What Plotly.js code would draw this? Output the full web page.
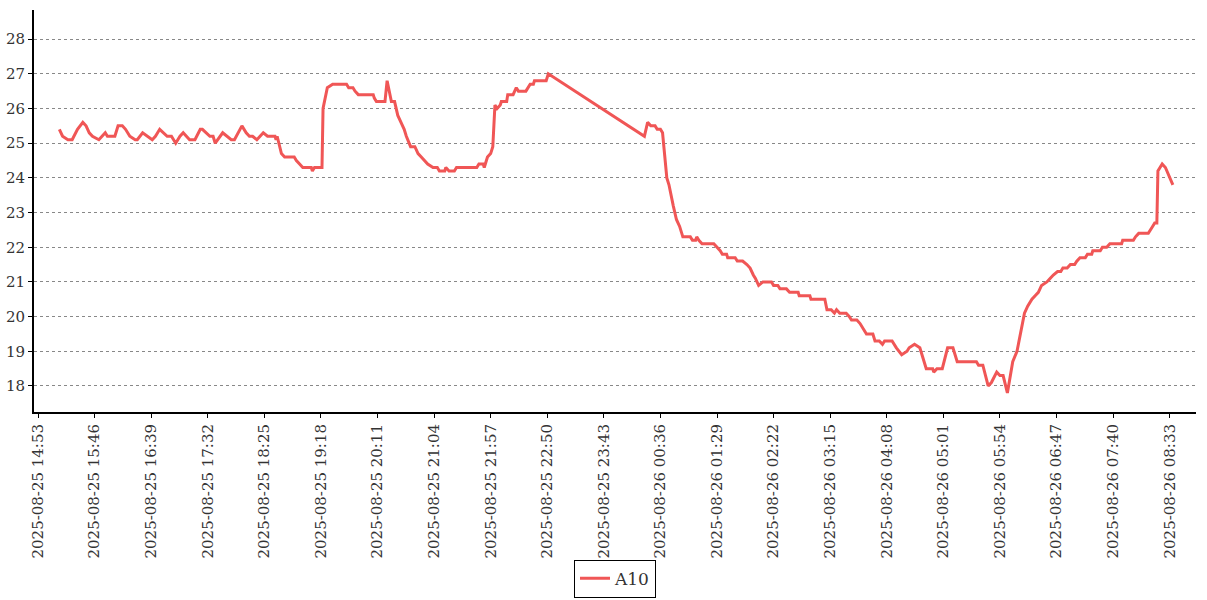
<!DOCTYPE html>
<html>
<head>
<meta charset="utf-8">
<script src="https://cdn.plot.ly/plotly-3.0.1.min.js"></script>
<style>html,body{margin:0;padding:0;background:#fff;}#chart{width:1207px;height:600px;}</style>
</head>
<body>
<div id="chart"></div>
<script>
const seriesName = "A10";
const times = [
"2025-08-25 15:13","2025-08-25 15:16","2025-08-25 15:21","2025-08-25 15:25","2025-08-25 15:30",
"2025-08-25 15:35","2025-08-25 15:38","2025-08-25 15:41","2025-08-25 15:44","2025-08-25 15:50",
"2025-08-25 15:53","2025-08-25 15:56","2025-08-25 15:58","2025-08-25 16:05","2025-08-25 16:08",
"2025-08-25 16:12","2025-08-25 16:15","2025-08-25 16:19","2025-08-25 16:24","2025-08-25 16:26",
"2025-08-25 16:31","2025-08-25 16:36","2025-08-25 16:40","2025-08-25 16:43","2025-08-25 16:47",
"2025-08-25 16:54","2025-08-25 16:58","2025-08-25 17:02","2025-08-25 17:06","2025-08-25 17:09",
"2025-08-25 17:15","2025-08-25 17:20","2025-08-25 17:25","2025-08-25 17:27","2025-08-25 17:34",
"2025-08-25 17:37","2025-08-25 17:39","2025-08-25 17:46","2025-08-25 17:50","2025-08-25 17:54",
"2025-08-25 17:57","2025-08-25 18:04","2025-08-25 18:08","2025-08-25 18:11","2025-08-25 18:14",
"2025-08-25 18:18","2025-08-25 18:21","2025-08-25 18:24","2025-08-25 18:28","2025-08-25 18:35",
"2025-08-25 18:36","2025-08-25 18:37","2025-08-25 18:41","2025-08-25 18:44","2025-08-25 18:53",
"2025-08-25 18:55","2025-08-25 18:58","2025-08-25 19:01","2025-08-25 19:09","2025-08-25 19:10",
"2025-08-25 19:12","2025-08-25 19:19","2025-08-25 19:20","2025-08-25 19:24","2025-08-25 19:29",
"2025-08-25 19:42","2025-08-25 19:44","2025-08-25 19:48","2025-08-25 19:50","2025-08-25 19:53",
"2025-08-25 20:07","2025-08-25 20:08","2025-08-25 20:10","2025-08-25 20:18","2025-08-25 20:20",
"2025-08-25 20:23","2025-08-25 20:24","2025-08-25 20:27","2025-08-25 20:30","2025-08-25 20:33",
"2025-08-25 20:36","2025-08-25 20:38","2025-08-25 20:42","2025-08-25 20:46","2025-08-25 20:49",
"2025-08-25 20:52","2025-08-25 20:55","2025-08-25 20:58","2025-08-25 21:03","2025-08-25 21:07",
"2025-08-25 21:09","2025-08-25 21:14","2025-08-25 21:15","2025-08-25 21:18","2025-08-25 21:23",
"2025-08-25 21:25","2025-08-25 21:44","2025-08-25 21:46","2025-08-25 21:50","2025-08-25 21:51",
"2025-08-25 21:52","2025-08-25 21:54","2025-08-25 21:57","2025-08-25 21:59","2025-08-25 22:01",
"2025-08-25 22:03","2025-08-25 22:06","2025-08-25 22:07","2025-08-25 22:12","2025-08-25 22:13",
"2025-08-25 22:18","2025-08-25 22:21","2025-08-25 22:23","2025-08-25 22:30","2025-08-25 22:34",
"2025-08-25 22:37","2025-08-25 22:38","2025-08-25 22:49","2025-08-25 22:51",
"2025-08-26 00:21","2025-08-26 00:24","2025-08-26 00:27","2025-08-26 00:31","2025-08-26 00:33",
"2025-08-26 00:36","2025-08-26 00:38","2025-08-26 00:42","2025-08-26 00:44","2025-08-26 00:48",
"2025-08-26 00:51","2025-08-26 00:54","2025-08-26 00:57","2025-08-26 01:04","2025-08-26 01:06",
"2025-08-26 01:09","2025-08-26 01:10","2025-08-26 01:12","2025-08-26 01:15","2025-08-26 01:26",
"2025-08-26 01:29","2025-08-26 01:32","2025-08-26 01:34","2025-08-26 01:38","2025-08-26 01:39",
"2025-08-26 01:46","2025-08-26 01:48","2025-08-26 01:53","2025-08-26 01:57","2025-08-26 02:00",
"2025-08-26 02:03","2025-08-26 02:05","2025-08-26 02:08","2025-08-26 02:12","2025-08-26 02:20",
"2025-08-26 02:22","2025-08-26 02:26","2025-08-26 02:28","2025-08-26 02:34","2025-08-26 02:37",
"2025-08-26 02:45","2025-08-26 02:46","2025-08-26 02:56","2025-08-26 02:57","2025-08-26 03:10",
"2025-08-26 03:12","2025-08-26 03:16","2025-08-26 03:19","2025-08-26 03:21","2025-08-26 03:24",
"2025-08-26 03:30","2025-08-26 03:33","2025-08-26 03:35","2025-08-26 03:40","2025-08-26 03:43",
"2025-08-26 03:45","2025-08-26 03:49","2025-08-26 03:55","2025-08-26 03:57","2025-08-26 04:01",
"2025-08-26 04:04","2025-08-26 04:06","2025-08-26 04:13","2025-08-26 04:17","2025-08-26 04:22",
"2025-08-26 04:27","2025-08-26 04:29","2025-08-26 04:34","2025-08-26 04:39","2025-08-26 04:45",
"2025-08-26 04:51","2025-08-26 04:52","2025-08-26 04:55","2025-08-26 05:00","2025-08-26 05:05",
"2025-08-26 05:10","2025-08-26 05:14","2025-08-26 05:32","2025-08-26 05:34","2025-08-26 05:38",
"2025-08-26 05:43","2025-08-26 05:46","2025-08-26 05:51","2025-08-26 05:54","2025-08-26 05:57",
"2025-08-26 06:01","2025-08-26 06:06","2025-08-26 06:10","2025-08-26 06:13","2025-08-26 06:17",
"2025-08-26 06:20","2025-08-26 06:24","2025-08-26 06:27","2025-08-26 06:30","2025-08-26 06:33",
"2025-08-26 06:38","2025-08-26 06:41","2025-08-26 06:44","2025-08-26 06:48","2025-08-26 06:51",
"2025-08-26 06:53","2025-08-26 06:57","2025-08-26 07:00","2025-08-26 07:04","2025-08-26 07:06",
"2025-08-26 07:09","2025-08-26 07:14","2025-08-26 07:16","2025-08-26 07:20","2025-08-26 07:21",
"2025-08-26 07:28","2025-08-26 07:30","2025-08-26 07:34","2025-08-26 07:37","2025-08-26 07:48",
"2025-08-26 07:49","2025-08-26 07:59","2025-08-26 08:01","2025-08-26 08:04","2025-08-26 08:13",
"2025-08-26 08:17","2025-08-26 08:19","2025-08-26 08:21","2025-08-26 08:22","2025-08-26 08:26",
"2025-08-26 08:29","2025-08-26 08:36"
];
const values = [
25.4,25.2,25.1,25.1,25.4,
25.6,25.5,25.3,25.2,25.1,
25.2,25.3,25.2,25.2,25.5,
25.5,25.4,25.2,25.1,25.1,
25.3,25.2,25.1,25.2,25.4,
25.2,25.2,25.0,25.2,25.3,
25.1,25.1,25.4,25.4,25.2,
25.2,25.0,25.3,25.2,25.1,
25.1,25.5,25.3,25.2,25.2,
25.1,25.2,25.3,25.2,25.2,
25.1,25.2,24.7,24.6,24.6,
24.5,24.4,24.3,24.3,24.2,
24.3,24.3,26.0,26.6,26.7,
26.7,26.6,26.6,26.5,26.4,
26.4,26.3,26.2,26.2,26.8,
26.4,26.2,26.2,25.8,25.6,
25.4,25.2,24.9,24.9,24.7,
24.6,24.5,24.4,24.3,24.3,
24.2,24.2,24.3,24.2,24.2,
24.3,24.3,24.4,24.4,24.3,
24.4,24.6,24.7,24.9,26.1,
26.0,26.1,26.2,26.2,26.4,
26.4,26.6,26.5,26.5,26.7,
26.7,26.8,26.8,27.0,
25.2,25.6,25.5,25.5,25.4,
25.4,25.3,24.0,23.8,23.2,
22.8,22.6,22.3,22.3,22.2,
22.2,22.3,22.2,22.1,22.1,
22.0,21.9,21.8,21.8,21.7,
21.7,21.6,21.6,21.5,21.4,
21.2,21.1,20.9,21.0,21.0,
20.9,20.9,20.8,20.8,20.7,
20.7,20.6,20.6,20.5,20.5,
20.2,20.2,20.1,20.2,20.1,
20.1,20.0,19.9,19.9,19.8,
19.7,19.5,19.5,19.3,19.3,
19.2,19.3,19.3,19.1,18.9,
19.0,19.1,19.2,19.1,18.5,
18.5,18.4,18.5,18.5,19.1,
19.1,18.7,18.7,18.6,18.6,
18.0,18.1,18.4,18.3,18.3,
17.8,18.7,19.0,19.5,20.1,
20.3,20.5,20.6,20.7,20.9,
21.0,21.1,21.2,21.3,21.3,
21.4,21.4,21.5,21.5,21.6,
21.7,21.7,21.8,21.8,21.9,
21.9,22.0,22.0,22.1,22.1,
22.2,22.2,22.3,22.4,22.4,
22.6,22.7,22.7,24.2,24.4,
24.3,23.8
];
const yTicks = [18,19,20,21,22,23,24,25,26,27,28];
const xTickStart = "2025-08-25 14:53";
const xTickStepMinutes = 53;

const trace = {
  x: times, y: values, type: "scatter", mode: "lines", name: seriesName,
  line: {color: "#f05656", width: 3}
};
const layout = {
  width: 1207, height: 600,
  margin: {l: 34, r: 11, t: 10, b: 188, autoexpand: false},
  paper_bgcolor: "#fff", plot_bgcolor: "#fff",
  font: {family: "DejaVu Serif", size: 14, color: "#333"},
  showlegend: true,
  legend: {orientation: "h", x: 0.5, xanchor: "center", y: -0.462, yanchor: "bottom",
    bordercolor: "#000", borderwidth: 1, font: {size: 17, color: "#333"}, bgcolor: "#fff",
    itemwidth: 30, tracegroupgap: 0},
  xaxis: {
    type: "date", automargin: false,
    range: ["2025-08-25 14:49:15", "2025-08-26 08:57:40"],
    tick0: xTickStart, dtick: xTickStepMinutes * 60 * 1000,
    tickformat: "%Y-%m-%d %H:%M", tickangle: -90,
    showgrid: false, zeroline: false,
    showline: true, linecolor: "#000", linewidth: 2,
    ticks: "outside", ticklen: 4, tickcolor: "#000", tickwidth: 1,
    tickfont: {size: 15, color: "#333"}
  },
  yaxis: {
    automargin: false,
    range: [17.25, 28.84],
    tickvals: yTicks,
    showgrid: true, gridcolor: "#888", gridwidth: 1, griddash: "dot",
    zeroline: false,
    showline: true, linecolor: "#000", linewidth: 2,
    ticks: "outside", ticklen: 4, tickcolor: "#000", tickwidth: 1,
    tickfont: {size: 15, color: "#333"}
  }
};
Plotly.newPlot("chart", [trace], layout, {displayModeBar: false, staticPlot: true});
</script>
</body>
</html>
